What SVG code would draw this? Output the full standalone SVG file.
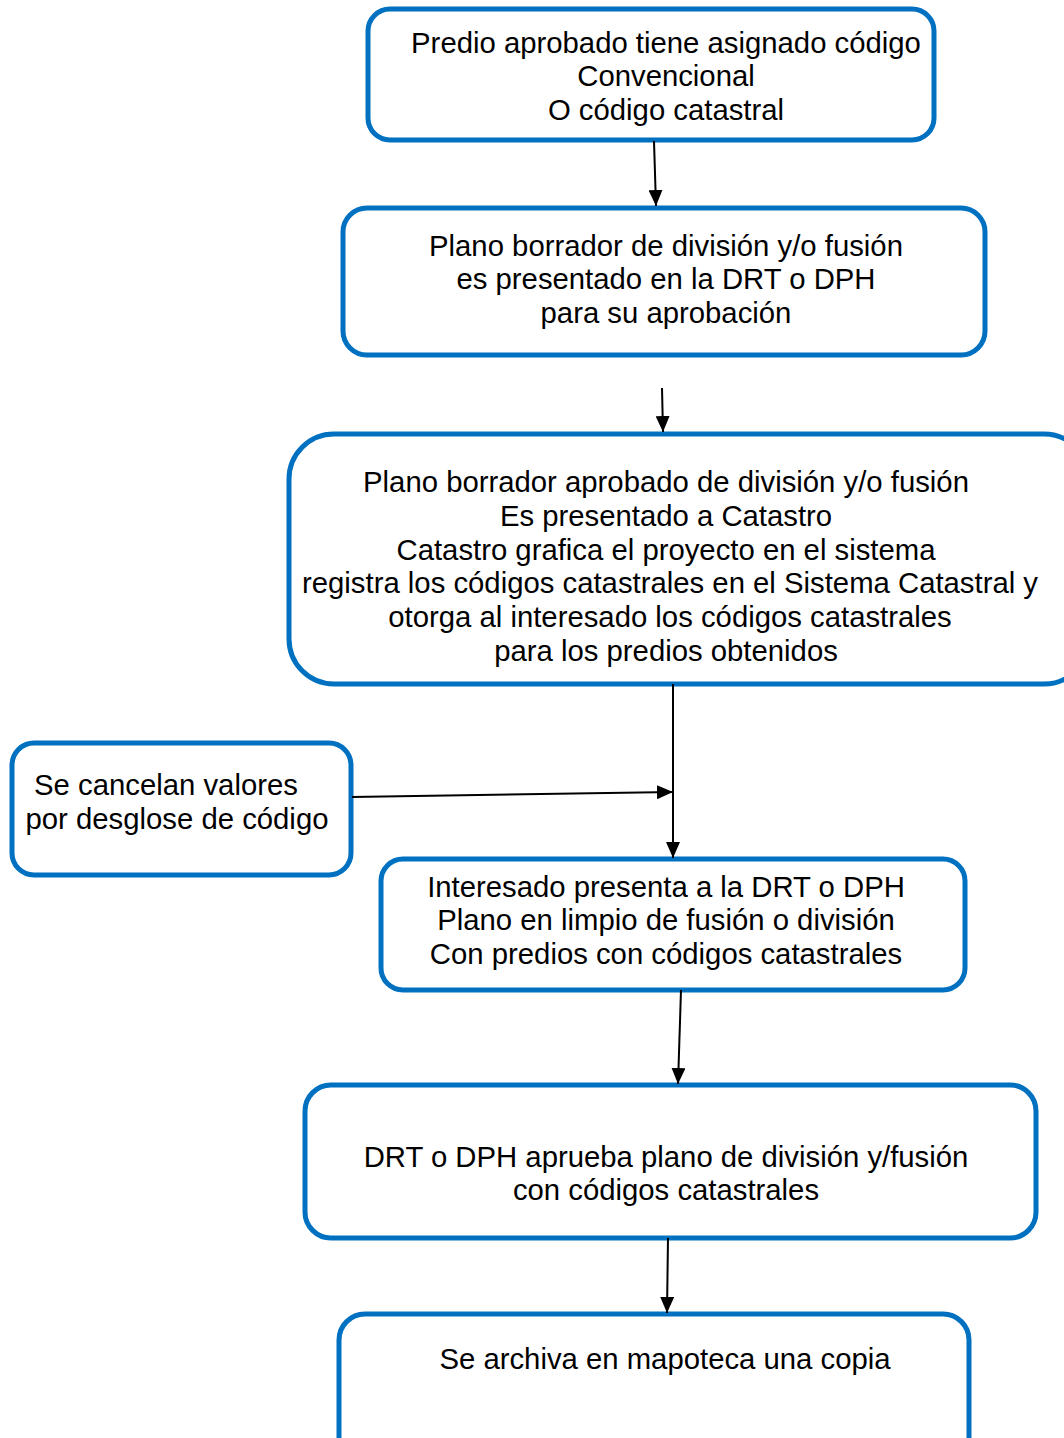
<svg xmlns="http://www.w3.org/2000/svg" width="1064" height="1438" viewBox="0 0 1064 1438">
<style>
.box{fill:#fff;stroke:#0070C0;stroke-width:5}
.t{font-family:"Liberation Sans",Arial,sans-serif;font-size:29.3px;fill:#000;text-anchor:middle}
.c{stroke:#000;stroke-width:2;fill:none;marker-end:url(#ah)}
</style>
<defs>
<marker id="ah" viewBox="0 0 16 14" refX="16" refY="7" markerWidth="16" markerHeight="14" markerUnits="userSpaceOnUse" orient="auto">
<path d="M0,0 L16,7 L0,14 Z" fill="#000"/>
</marker>
</defs>
<rect width="1064" height="1438" fill="#fff"/>
<g id="n1"><rect class="box" x="368" y="9" width="566" height="131" rx="22"/>
<text class="t" x="666" y="53">Predio aprobado tiene asignado código</text>
<text class="t" x="666" y="86">Convencional</text>
<text class="t" x="666" y="120">O código catastral</text></g>
<g id="n2"><rect class="box" x="343" y="208" width="642" height="147" rx="24"/>
<text class="t" x="666" y="256">Plano borrador de división y/o fusión</text>
<text class="t" x="666" y="289">es presentado en la DRT o DPH</text>
<text class="t" x="666" y="323">para su aprobación</text></g>
<g id="n3"><rect class="box" x="289" y="434" width="800" height="250" rx="45"/>
<text class="t" x="666" y="492">Plano borrador aprobado de división y/o fusión</text>
<text class="t" x="666" y="526">Es presentado a Catastro</text>
<text class="t" x="666" y="560">Catastro grafica el proyecto en el sistema</text>
<text class="t" x="670" y="593">registra los códigos catastrales en el Sistema Catastral y</text>
<text class="t" x="670" y="627">otorga al interesado los códigos catastrales</text>
<text class="t" x="666" y="661">para los predios obtenidos</text></g>
<g id="n4"><rect class="box" x="12" y="743" width="339" height="132" rx="22"/>
<text class="t" x="166" y="795">Se cancelan valores</text>
<text class="t" x="177" y="829">por desglose de código</text></g>
<g id="n5"><rect class="box" x="381" y="859" width="584" height="131" rx="22"/>
<text class="t" x="666" y="897">Interesado presenta a la DRT o DPH</text>
<text class="t" x="666" y="930">Plano en limpio de fusión o división</text>
<text class="t" x="666" y="964">Con predios con códigos catastrales</text></g>
<g id="n6"><rect class="box" x="305" y="1085" width="731" height="153" rx="26"/>
<text class="t" x="666" y="1167">DRT o DPH aprueba plano de división y/fusión</text>
<text class="t" x="666" y="1200">con códigos catastrales</text></g>
<g id="n7"><rect class="box" x="339" y="1314" width="630" height="150" rx="26"/>
<text class="t" x="665" y="1369">Se archiva en mapoteca una copia</text></g>
<g id="connectors">
<line class="c" x1="654" y1="141" x2="656" y2="206"/>
<line class="c" x1="662" y1="388" x2="663" y2="432"/>
<line class="c" x1="673" y1="684" x2="673" y2="858"/>
<line class="c" x1="352" y1="797" x2="673" y2="792"/>
<line class="c" x1="681" y1="990" x2="678" y2="1084"/>
<line class="c" x1="668" y1="1238" x2="667" y2="1313"/>
</g>
</svg>
